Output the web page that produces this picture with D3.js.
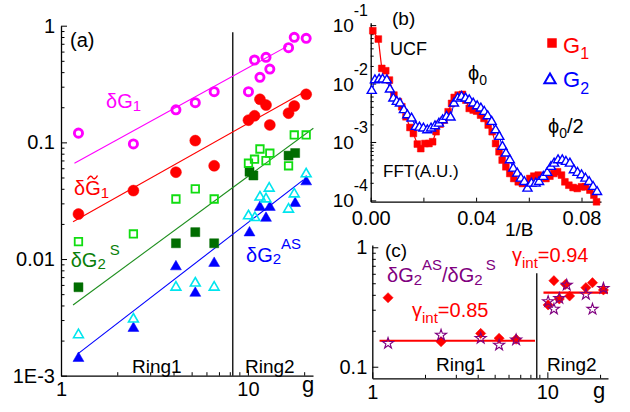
<!DOCTYPE html>
<html><head><meta charset="utf-8">
<script src="https://cdn.jsdelivr.net/npm/d3@7"></script>
<style>
html,body{margin:0;padding:0;background:#fff;}
svg{display:block;}
</style></head><body>
<svg id="c" width="630" height="412"></svg>
<script>
const FONT = '"Liberation Sans", Arial, Helvetica, sans-serif';

// ---------- Panel (a) data ----------
const aTickX = [1, 10];
const aTickXLabels = ["1", "10"];
const aTickY = [0.001, 0.01, 0.1, 1];
const aTickYLabels = ["1E-3", "0.01", "0.1", "1"];

const dG1_g = [1.24, 2.44, 4.12, 5.23, 6.6, 10.07, 10.85, 12.5, 11.6, 13.1, 16.5, 17.7, 20.5];
const dG1_v = [0.12, 0.097, 0.19, 0.219, 0.272, 0.272, 0.508, 0.536, 0.361, 0.425, 0.648, 0.795, 0.78];

const dG1t_g = [1.24, 2.44, 4.12, 5.23, 6.6, 10.07, 10.85, 11.6, 12.5, 13.1, 16.5, 17.7, 20.5];
const dG1t_v = [0.0243, 0.0386, 0.0555, 0.1035, 0.063, 0.155, 0.169, 0.234, 0.209, 0.141, 0.178, 0.205, 0.258];

const dG2Sopen_g = [1.24, 2.44, 4.12, 5.23, 6.6, 10.07, 10.85, 11.6, 12.5, 13.1, 16.5, 17.7, 20.5];
const dG2Sopen_v = [0.0141, 0.0164, 0.0327, 0.0399, 0.0327, 0.0662, 0.0717, 0.0877, 0.0697, 0.0807, 0.063, 0.1157, 0.1157];

const dG2Sfill_g = [1.24, 4.12, 5.23, 6.6, 10.2, 10.7, 16.5, 17.9];
const dG2Sfill_v = [0.00573, 0.01365, 0.017, 0.01365, 0.056, 0.052, 0.077, 0.081];

const dG2ASopen_g = [1.24, 2.44, 4.12, 5.23, 6.6, 10.07, 10.9, 11.6, 12.5, 13.0, 16.5, 17.7, 20.5];
const dG2ASopen_v = [0.00224, 0.00305, 0.00573, 0.00621, 0.00573, 0.0234, 0.0226, 0.0339, 0.0327, 0.0404, 0.0267, 0.0361, 0.0536];

const dG2ASfill_g = [1.24, 2.44, 4.12, 5.23, 6.6, 10.2, 11.6, 12.5, 13.1, 17.9, 20.5];
const dG2ASfill_v = [0.00141, 0.00255, 0.0086, 0.0051, 0.0092, 0.0168, 0.0278, 0.0224, 0.0278, 0.030, 0.046];

// power-law fit lines (endpoints)
const fitG1_g = [1.18, 16.2],  fitG1_v = [0.0662, 0.665];
const fitG1t_g = [1.16, 19.8], fitG1t_v = [0.0209, 0.268];
const fitG2S_g = [1.16, 22.4], fitG2S_v = [0.00404, 0.132];
const fitG2AS_g = [1.23, 19.8], fitG2AS_v = [0.00154, 0.0477];
const aDivider_g = 8.3, aDividerTop = 0.878;

// ---------- Panel (b) data ----------
const bTickX = [0, 0.02, 0.04, 0.06, 0.08];
const bTickXLabels = ["0.00", "", "0.04", "", "0.08"];
const bTickY = [1e-4, 1e-3, 1e-2, 1e-1];
const bTickYExp = ["-4", "-3", "-2", "-1"];

const bG1_x = [0.0008, 0.0029, 0.0042, 0.0057, 0.0071, 0.0088, 0.0105, 0.0118, 0.0134, 0.0149,
  0.0162, 0.0177, 0.0190, 0.0206, 0.0221, 0.0235, 0.0248, 0.0263, 0.0278, 0.0294,
  0.0307, 0.0317, 0.0332, 0.0348, 0.0361, 0.0374, 0.0389, 0.0402, 0.0417, 0.0430,
  0.0446, 0.0461, 0.0474, 0.0487, 0.0499, 0.0513, 0.0528, 0.0543, 0.0560, 0.0576,
  0.0591, 0.0604, 0.0619, 0.0636, 0.0651, 0.0665, 0.0680, 0.0695, 0.0709, 0.0724,
  0.0737, 0.0752, 0.0768, 0.0784, 0.0800, 0.0815, 0.0832, 0.0847, 0.0857];
const bG1_y = [0.0802, 0.0577, 0.01816, 0.01656, 0.01146, 0.00634, 0.00488, 0.00401, 0.0027, 0.00177,
  0.0014, 0.00092, 0.00077, 0.00094, 0.00094, 0.00101, 0.0015, 0.00202, 0.00237, 0.00329,
  0.00457, 0.00578, 0.00634, 0.00652, 0.00521, 0.00375, 0.00352, 0.00337, 0.00288, 0.00253,
  0.00195, 0.0015, 0.00094, 0.00068, 0.00049, 0.000376, 0.000289, 0.000237, 0.000208, 0.000195,
  0.0002, 0.000237, 0.00026, 0.000271, 0.000254, 0.000237, 0.00026, 0.000289, 0.000309, 0.000271,
  0.000208, 0.000182, 0.000166, 0.00016, 0.000171, 0.000171, 0.00015, 0.000123, 0.0000946];

const bG2_x = [0.0004, 0.0016, 0.0032, 0.0045, 0.0061, 0.0073, 0.0086, 0.0099, 0.0111, 0.0126,
  0.0139, 0.0155, 0.0171, 0.0185, 0.0200, 0.0215, 0.0229, 0.0244, 0.0259, 0.0273,
  0.0288, 0.0303, 0.0316, 0.0330, 0.0345, 0.0360, 0.0374, 0.0389, 0.0404, 0.0418,
  0.0431, 0.0444, 0.0459, 0.0474, 0.0488, 0.0500, 0.0513, 0.0528, 0.0541, 0.0556,
  0.0570, 0.0583, 0.0595, 0.0610, 0.0626, 0.0639, 0.0655, 0.0670, 0.0684, 0.0696,
  0.0711, 0.0727, 0.0741, 0.0756, 0.0771, 0.0785, 0.0800, 0.0815, 0.0829, 0.0844, 0.0859];
const bG2_y = [0.00753, 0.01146, 0.01177, 0.01177, 0.01146, 0.00793, 0.00556, 0.00488, 0.00457, 0.00352,
  0.00288, 0.00253, 0.00182, 0.00177, 0.00171, 0.0016, 0.00171, 0.00187, 0.00207, 0.00237,
  0.0027, 0.00263, 0.00457, 0.00556, 0.00594, 0.00556, 0.00521, 0.00457, 0.00411, 0.00375,
  0.00329, 0.00277, 0.00222, 0.0016, 0.00123, 0.00083, 0.00064, 0.00049, 0.000352, 0.000289,
  0.000237, 0.000208, 0.00016, 0.000195, 0.000195, 0.000208, 0.000254, 0.000297, 0.000376, 0.000429,
  0.00049, 0.00049, 0.000458, 0.000429, 0.00033, 0.000297, 0.000271, 0.000237, 0.000208, 0.000171, 0.00014];

// ---------- Panel (c) data ----------
const cTickX = [1, 10];
const cTickXLabels = ["1", "10"];
const cTickY = [0.1, 1];
const cTickYLabels = ["0.1", "1"];

const cDiam_g = [1.23, 2.47, 4.16, 5.3, 6.63, 10.1, 10.9, 11.7, 12.7, 13.4, 16.6, 18.1, 20.9];
const cDiam_v = [0.378, 0.162, 0.19, 0.173, 0.17, 0.329, 0.525, 0.369, 0.49, 0.391, 0.459, 0.505, 0.439];
const cStar_g = [1.23, 2.47, 4.16, 5.3, 6.63, 10.1, 10.9, 11.7, 12.9, 16.6, 18.1, 20.9];
const cStar_v = [0.157, 0.184, 0.173, 0.152, 0.168, 0.351, 0.304, 0.374, 0.483, 0.404, 0.303, 0.454];
const cRing1_g = [1.1, 8.5],  cRing1_v = [0.165, 0.165];
const cRing2_g = [9.5, 22.2], cRing2_v = [0.417, 0.417];
const cDivider_g = 8.7, cDividerTop = 0.606;

// ---------- helpers ----------
const svg = d3.select("#c").attr("font-family", FONT);

function isPow10(t) { const l = Math.log10(t); return Math.abs(l - Math.round(l)) < 1e-6; }

function styleAxis(g, fs) {
  g.select(".domain").attr("stroke", "#000").attr("stroke-width", 1.3);
  g.selectAll(".tick line").attr("stroke", "#000").attr("stroke-width", 1);
  g.selectAll("text").attr("font-size", fs).attr("font-family", FONT).attr("fill", "#000");
}

function logAxes(xS, yS, xMaj, xLab, yMaj, yLab, xPad, yPad, fs, minorY) {
  const yb = yS.range()[0], xl = xS.range()[0];
  const gxm = svg.append("g").attr("transform", `translate(0,${yb})`)
    .call(d3.axisBottom(xS).tickValues(xS.ticks().filter(t => !isPow10(t))).tickSize(-3.5).tickSizeOuter(0).tickFormat(""));
  gxm.select(".domain").remove(); styleAxis(gxm, fs);
  const gym = svg.append("g").attr("transform", `translate(${xl},0)`)
    .call(d3.axisLeft(yS).tickValues(minorY).tickSize(-3.5).tickSizeOuter(0).tickFormat(""));
  gym.select(".domain").remove(); styleAxis(gym, fs);
  const gx = svg.append("g").attr("transform", `translate(0,${yb})`)
    .call(d3.axisBottom(xS).tickValues(xMaj).tickSize(-6).tickSizeOuter(0).tickPadding(xPad)
      .tickFormat((d, i) => xLab[i]));
  styleAxis(gx, fs);
  const gy = svg.append("g").attr("transform", `translate(${xl},0)`)
    .call(d3.axisLeft(yS).tickValues(yMaj).tickSize(-6).tickSizeOuter(0).tickPadding(yPad)
      .tickFormat((d, i) => yLab[i]));
  styleAxis(gy, fs);
}

function pts(xS, yS, xs, ys, type, size, fill, stroke, sw, rot) {
  svg.append("g").selectAll("path").data(xs.map((x, i) => [x, ys[i]])).join("path")
    .attr("d", d3.symbol().type(type).size(size))
    .attr("transform", d => `translate(${xS(d[0])},${yS(d[1])})` + (rot ? ` rotate(${rot})` : ""))
    .attr("fill", fill).attr("stroke", stroke).attr("stroke-width", sw);
}

function line(xS, yS, xs, ys, color, w) {
  svg.append("path").datum(xs.map((x, i) => [x, ys[i]]))
    .attr("d", d3.line().x(d => xS(d[0])).y(d => yS(d[1])))
    .attr("fill", "none").attr("stroke", color).attr("stroke-width", w);
}

// parts: [text, fontSize, baselineOffset(relative to main baseline), dx]
function rich(x, y, parts, color, anchor) {
  const t = svg.append("text").attr("x", x).attr("y", y).attr("fill", color)
    .attr("font-family", FONT).attr("text-anchor", anchor || "start");
  let cur = 0;
  parts.forEach(p => {
    const off = p[2] || 0;
    t.append("tspan").attr("font-size", p[1]).attr("dy", off - cur).attr("dx", p[3] || 0).text(p[0]);
    cur = off;
  });
  return t;
}

// ================= Panel (a) =================
const xA = d3.scaleLog().domain([1, 22.3]).range([61, 313]);
const yA = d3.scaleLog().domain([1e-3, 1]).range([375.7, 25.7]);
logAxes(xA, yA, aTickX, aTickXLabels, aTickY, aTickYLabels, 6.5, 6, 20,
  yA.ticks().filter(t => !isPow10(t)));

line(xA, yA, [aDivider_g, aDivider_g], [aDividerTop, 1e-3], "#000", 1.3);

line(xA, yA, fitG1_g, fitG1_v, "#ff00ff", 1.1);
line(xA, yA, fitG1t_g, fitG1t_v, "#ff0000", 1.1);
line(xA, yA, fitG2S_g, fitG2S_v, "#1f8f1f", 1.1);
line(xA, yA, fitG2AS_g, fitG2AS_v, "#0000ff", 1.1);

pts(xA, yA, dG2Sfill_g, dG2Sfill_v, d3.symbolSquare, 81, "#006d00", "#006d00", 0.5);
pts(xA, yA, dG2Sopen_g, dG2Sopen_v, d3.symbolSquare, 56, "none", "#11dd11", 1.8);
pts(xA, yA, dG1t_g, dG1t_v, d3.symbolCircle, 95, "#ff0000", "#ff0000", 0.5);
pts(xA, yA, dG1_g, dG1_v, d3.symbolCircle, 52, "none", "#ff00ff", 2.9);
pts(xA, yA, dG2ASfill_g, dG2ASfill_v, d3.symbolTriangle, 52, "#0000ff", "#0000ff", 0.5);
pts(xA, yA, dG2ASopen_g, dG2ASopen_v, d3.symbolTriangle, 42, "none", "#00e5ee", 1.6);

rich(70, 47, [["(a)", 20]], "#000");
rich(106, 108.3, [["\u03B4G", 20], ["1", 15, 2.5]], "#ff00ff");
rich(74, 195, [["\u03B4G", 20], ["1", 15, 2.5]], "#ff0000");
// tilde accent over the G of δG̃1
svg.append("path").attr("d", "M87.5,179.5 C89.5,175.5 91.5,175.5 92.5,177.5 S95.5,179.5 97.5,175.5")
  .attr("fill", "none").attr("stroke", "#ff0000").attr("stroke-width", 1.4);
rich(70.7, 266.7, [["\u03B4G", 20], ["2", 15, 2.5], ["S", 15, -11.5, 4]], "#0a7f0a");
rich(246, 261.7, [["\u03B4G", 20], ["2", 15, 2.5], ["AS", 15, -12.5]], "#0000ff");
rich(132, 373, [["Ring1", 19]], "#000");
rich(245, 373, [["Ring2", 19]], "#000");
rich(302, 392, [["g", 22]], "#000");

// ================= Panel (b) =================
const xB = d3.scaleLinear().domain([0, 0.0874]).range([370.7, 601]);
const yB = d3.scaleLog().domain([9.5e-5, 0.11]).range([201.7, 22.7]);
{
  const yb = yB.range()[0], xl = xB.range()[0];
  const gym = svg.append("g").attr("transform", `translate(${xl},0)`)
    .call(d3.axisLeft(yB).tickValues(yB.ticks().filter(t => !isPow10(t))).tickSize(-3).tickSizeOuter(0).tickFormat(""));
  gym.select(".domain").remove(); styleAxis(gym, 19);
  const gy = svg.append("g").attr("transform", `translate(${xl},0)`)
    .call(d3.axisLeft(yB).tickValues(bTickY).tickSize(-5.5).tickSizeOuter(0).tickFormat(""));
  styleAxis(gy, 19);
  const gx = svg.append("g").attr("transform", `translate(0,${yb})`)
    .call(d3.axisBottom(xB).tickValues(bTickX).tickSize(-4).tickSizeOuter(0).tickPadding(9)
      .tickFormat((d, i) => bTickXLabels[i]));
  styleAxis(gx, 20);
  bTickY.forEach((v, i) => {
    rich(368, yB(v) + 7, [["10", 19], [bTickYExp[i], 16, -16]], "#000", "end");
  });
}
line(xB, yB, bG1_x, bG1_y, "#ff0000", 1.2);
pts(xB, yB, bG1_x, bG1_y, d3.symbolSquare, 46, "#ff0000", "#ff0000", 0.5);
line(xB, yB, bG2_x, bG2_y, "#0000ff", 1);
pts(xB, yB, bG2_x, bG2_y, d3.symbolTriangle, 36, "#fff", "#0000ff", 1.4);

rich(392, 25, [["(b)", 19]], "#000");
rich(390, 55, [["UCF", 18]], "#000");
rich(468, 80, [["\u03D5", 20], ["0", 14, 5]], "#000");
rich(548, 133, [["\u03D5", 20], ["0", 14, 5], ["/2", 20, 0]], "#000");
rich(383, 177, [["FFT(A.U.)", 17]], "#000");
rich(505, 236, [["1/B", 19]], "#000");
// legend
svg.append("path").attr("d", d3.symbol().type(d3.symbolSquare).size(90)())
  .attr("transform", "translate(552,43)").attr("fill", "#ff0000");
rich(563, 53, [["G", 22], ["1", 16, 6]], "#ff0000");
svg.append("path").attr("d", d3.symbol().type(d3.symbolTriangle).size(55)())
  .attr("transform", "translate(550,80)").attr("fill", "none").attr("stroke", "#0000ff").attr("stroke-width", 2);
rich(563, 87, [["G", 22], ["2", 16, 7]], "#0000ff");

// ================= Panel (c) =================
const xC = d3.scaleLog().domain([1, 22.2]).range([372.3, 608]);
const yC = d3.scaleLog().domain([0.08, 1.045]).range([378.3, 245]);
logAxes(xC, yC, cTickX, cTickXLabels, cTickY, cTickYLabels, 7, 5, 20,
  yC.ticks().filter(t => !isPow10(t) && t > 0.1 && t < 1));

line(xC, yC, [cDivider_g, cDivider_g], [cDividerTop, 0.08], "#000", 1.3);
line(xC, yC, cRing1_g, cRing1_v, "#ff0000", 2.2);
line(xC, yC, cRing2_g, cRing2_v, "#ff0000", 2.2);
pts(xC, yC, cDiam_g, cDiam_v, d3.symbolSquare, 52, "#ff0000", "#ff0000", 0.5, 45);
pts(xC, yC, cStar_g, cStar_v, d3.symbolStar, 38, "none", "#800080", 1.1);

rich(385, 257, [["(c)", 19]], "#000");
rich(387, 281.7, [["\u03B4G", 20], ["2", 15, 3], ["AS", 15, -12], ["/\u03B4G", 20, 0], ["2", 15, 3], ["S", 15, -12, 3]], "#800080");
rich(412, 317, [["\u03B3", 20], ["int", 15, 6], ["=0.85", 20, 0]], "#ff0000");
rich(512, 261.7, [["\u03B3", 20], ["int", 15, 6], ["=0.94", 20, 0]], "#ff0000");
rich(436, 371, [["Ring1", 19]], "#000");
rich(547, 371, [["Ring2", 19]], "#000");
rich(593, 398, [["g", 22]], "#000");
</script>
</body></html>
